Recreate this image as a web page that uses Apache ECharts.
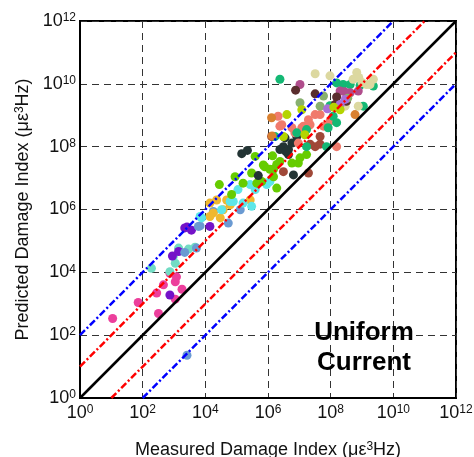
<!DOCTYPE html>
<html>
<head>
<meta charset="utf-8">
<script src="https://cdn.jsdelivr.net/npm/echarts@6/dist/echarts.min.js"></script>
<style>
  html, body { margin: 0; padding: 0; background: #fff; }
  #chart { width: 474px; height: 457px; }
</style>
</head>
<body>
<div id="chart"></div>
<script>
// Measured vs predicted damage index, pairs of [measured, predicted] in µε³Hz
const pink = [[1.1e1, 3.4e2], [7.2e1, 1.1e3], [2.8e2, 2.2e3], [4.6e2, 4.0e3], [1.1e3, 5.0e3],
  [7.4e2, 9.3e3], [1.2e3, 7.2e3], [1.8e3, 2.9e3], [1.1e3, 1.4e3], [3.2e2, 4.9e2]];
const aqua = [[1.9e2, 1.35e4], [7.4e2, 1.05e4], [1.1e3, 1.95e4], [9.5e2, 3.2e4], [1.4e3, 5.9e4],
  [2.9e3, 5.5e4], [4.7e3, 6.3e4]];
const violet = [[8.9e2, 3.3e4], [1.4e3, 4.6e4], [2.6e3, 2.75e5], [3.6e3, 2.2e5], [7.4e2, 1.9e3],
  [1.4e4, 2.9e5], [2.2e3, 2.6e5]];
const steel = [[2.2e3, 4.3e4], [5.2e3, 5.9e4], [6.8e3, 3.0e5], [2.6e3, 2.3e1], [6.0e3, 2.9e5],
  [1.8e4, 8.7e5], [5.4e4, 3.7e5], [1.3e5, 9.8e5]];
const gold = [[1.4e4, 1.6e6], [2.3e4, 2.0e6], [4.8e4, 2.0e6], [6.2e4, 1.4e6], [1.8e4, 7.8e5],
  [3.0e4, 5.4e5], [1.4e4, 6.0e5], [2.7e5, 2.0e6], [3.7e4, 9.8e5]];
const cyan = [[6.2e4, 1.8e6], [1.1e5, 4.3e6], [2.7e5, 6.2e6], [4.9e5, 6.9e6], [9.1e5, 6.2e6],
  [7.6e3, 5.4e5], [3.0e5, 1.26e6], [1.6e5, 1.6e6], [3.9e5, 4.3e6], [1.15e6, 7.8e6],
  [7.8e4, 1.8e6], [3.3e4, 9.8e5], [6.8e3, 6.0e5]];
const lime = [[2.8e4, 6.2e6], [6.9e4, 3.0e6], [3.0e5, 1.45e7], [7.9e5, 2.3e7], [1.15e6, 1.9e7],
  [1.9e6, 2.7e7], [4.4e5, 6.9e6], [1.5e6, 1.1e7], [1.4e6, 5.1e7], [7.1e5, 2.6e7],
  [2.4e6, 3.4e7], [5.8e6, 3.0e7], [9.3e6, 3.0e7], [1.7e7, 5.6e7], [1.05e7, 4.4e7],
  [1.9e6, 4.8e6], [6.3e5, 7.8e6], [1.5e6, 1.9e7], [3.9e5, 4.9e7], [8.9e4, 1.1e7],
  [1.6e5, 6.9e6]];
const slate = [[1.45e5, 6.0e7], [2.2e5, 7.6e7], [4.9e5, 1.2e7], [6.5e6, 1.26e7], [4.5e6, 8.1e7],
  [3.1e6, 1.0e8], [5.8e6, 1.3e8], [4.5e6, 5.6e7], [3.5e6, 1.9e8], [8.3e6, 2.1e8],
  [2.4e6, 8.1e7], [3.8e6, 6.8e7]];
const brick = [[3.1e6, 1.6e7], [3.2e7, 1.0e8], [4.6e7, 1.2e8], [2.2e7, 1.2e8], [4.6e7, 2.1e8],
  [1.95e7, 1.45e7], [1.3e6, 2.1e8]];
const salmon = [[2.75e6, 5.0e8], [1.35e7, 4.5e8], [2.2e7, 5.0e8], [5.9e7, 4.5e8], [7.2e6, 2.75e8],
  [1.55e8, 1.0e8], [2.1e6, 9.3e8], [2.4e6, 4.5e8], [5.8e6, 4.0e8], [1.2e7, 4.0e8],
  [1.95e7, 7.2e8], [3.2e7, 1.05e9], [4.6e7, 1.05e9], [9.5e7, 6.5e8], [9.3e6, 1.3e8]];
const jade = [[2.4e6, 1.4e10], [1.55e8, 1.07e10], [2.5e8, 9.5e9], [4.2e8, 9.5e9], [8.7e8, 8.9e9],
  [2.3e9, 8.5e9], [9.5e7, 2.0e9], [1.1e9, 1.95e9], [1.2e8, 9.3e8], [1.55e8, 5.8e8],
  [8.3e7, 4.0e8], [1.7e7, 3.5e8], [1.66e6, 2.1e8], [8.3e6, 2.75e8], [1.7e7, 1.0e8],
  [7.4e7, 1.0e8]];
const amber = [[1.3e6, 8.3e8], [6.0e8, 1.05e9], [1.35e6, 2.2e8]];
const khaki = [[3.2e7, 2.1e10], [9.5e7, 1.8e10], [6.8e8, 2.3e10], [5.2e8, 1.4e10], [2.3e9, 1.4e10],
  [1.4e9, 9.5e9], [2.9e8, 1.95e9], [7.6e8, 1.95e9], [1.8e9, 9.5e9], [7.9e8, 1.6e10],
  [1.0e9, 1.1e10]];
const plum = [[1.05e7, 9.5e9], [2.0e8, 5.9e9], [4.2e8, 5.2e9], [7.6e8, 5.9e9], [2.8e8, 5.6e9]];
const cocoa = [[7.6e6, 6.3e9], [3.2e7, 4.8e9], [1.55e8, 3.8e9], [3.2e8, 2.8e9], [1.4e8, 2.2e9]];
const sage = [[1.05e7, 2.5e9], [4.6e7, 1.95e9], [5.9e7, 4.1e9], [3.5e8, 3.5e9]];
const lavender = [[2.9e8, 3.2e9], [2.0e8, 2.2e9], [7.9e7, 1.6e9]];
const chartreuse = [[4.0e6, 1.05e9], [1.2e7, 1.5e9], [2.0e8, 1.5e9], [3.1e6, 2.1e8], [1.5e7, 2.4e8],
  [1.26e8, 1.8e9]];

const groups = [
  [pink, '#ec3f9c'], [aqua, '#72dcc4'], [violet, '#7412c8'], [steel, '#6a9ad2'],
  [gold, '#f0b830'], [cyan, '#5ee6e8'], [lime, '#66cc00'], [slate, '#233434'],
  [brick, '#a04838'], [salmon, '#f07a6c'], [jade, '#14b874'], [amber, '#d98030'],
  [khaki, '#dcd8a0'], [plum, '#b04d8c'], [cocoa, '#5a2e2e'], [sage, '#88b070'],
  [lavender, '#a870d8'], [chartreuse, '#b4d400']
];

// Reference lines: predicted = factor × measured
const guideFactors = [1, 10, 0.1, 100, 0.01];
const guideColors = ['#000000', '#ff0000', '#ff0000', '#0000ff', '#0000ff'];
const axisMin = 1, axisMax = 1e12;

const FONT = 'Liberation Sans, Arial, Helvetica, sans-serif';

const tickLabel = {
  formatter: v => '{b|10}{s|' + Math.round(Math.log10(v)) + '}',
  rich: {
    b: { fontSize: 18, fontFamily: FONT, color: '#111', padding: [3, 0, 0, 0], verticalAlign: 'bottom', lineHeight: 18 },
    s: { fontSize: 12, fontFamily: FONT, color: '#111', verticalAlign: 'top', lineHeight: 12 }
  }
};

const nameRich = {
  n: { fontSize: 18, fontFamily: FONT, color: '#111', verticalAlign: 'bottom', lineHeight: 18, padding: [5, 0, 0, 0] },
  s: { fontSize: 12, fontFamily: FONT, color: '#111', verticalAlign: 'top', lineHeight: 12 }
};

function axisCommon() {
  return {
    type: 'log',
    logBase: 10,
    min: axisMin,
    max: axisMax,
    interval: 2,
    splitNumber: 6,
    axisLine: { show: true, lineStyle: { color: '#000', width: 2 } },
    axisTick: { show: false },
    minorTick: { show: false },
    splitLine: { show: true, lineStyle: { type: [7, 5], color: '#333', width: 1 } },
    nameLocation: 'middle',
    nameTextStyle: { rich: nameRich }
  };
}

const scatterSeries = groups.map(([data, color]) => ({
  type: 'scatter',
  data: data,
  symbol: 'circle',
  symbolSize: 9,
  itemStyle: { color: color, opacity: 1 },
  z: 2,
  silent: true
}));

const guideSeries = guideFactors.map((f, i) => {
  const x0 = Math.max(axisMin, axisMin / f);
  const x1 = Math.min(axisMax, axisMax / f);
  return {
    type: 'line',
    data: [[x0, x0 * f], [x1, x1 * f]],
    symbol: 'none',
    silent: true,
    z: 3,
    lineStyle: {
      color: guideColors[i],
      width: 2.5,
      type: f === 1 ? 'solid' : [7, 2.5, 2, 2.5]
    }
  };
});

const chart = echarts.init(document.getElementById('chart'), null, { renderer: 'canvas' });
chart.setOption({
  animation: false,
  backgroundColor: '#fff',
  grid: {
    left: 80, right: 18, top: 21, bottom: 59,
    outerBoundsMode: 'none', containLabel: false,
    show: true, borderColor: '#000', borderWidth: 2, backgroundColor: 'transparent'
  },
  xAxis: Object.assign(axisCommon(), {
    name: '{n|Measured Damage Index (με}{s|3}{n|Hz)}',
    nameGap: 43,
    axisLabel: Object.assign({ margin: 6 }, tickLabel)
  }),
  yAxis: Object.assign(axisCommon(), {
    name: '{n|Predicted Damage Index (με}{s|3}{n|Hz)}',
    nameGap: 48,
    axisLabel: Object.assign({ margin: 4 }, tickLabel)
  }),
  graphic: [{
    type: 'text',
    x: 364,
    y: 348,
    z: 10,
    style: {
      text: 'Uniform\nCurrent',
      font: 'bold 26px ' + FONT,
      textAlign: 'center',
      textVerticalAlign: 'middle',
      lineHeight: 30,
      fill: '#000'
    }
  }],
  series: scatterSeries.concat(guideSeries)
});
</script>
</body>
</html>
